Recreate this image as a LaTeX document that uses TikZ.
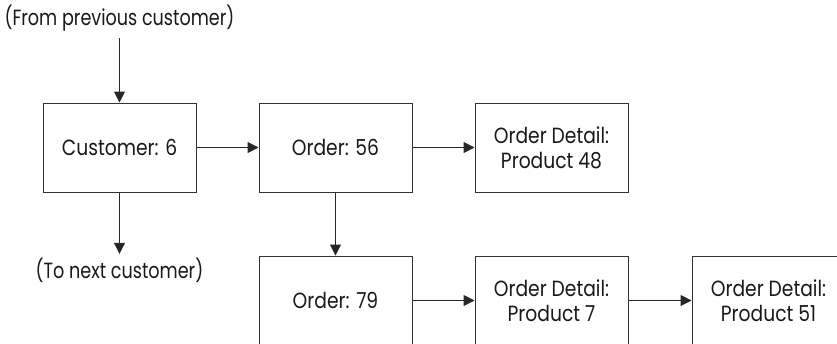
\documentclass[tikz,border=0pt]{standalone}
\usepackage{fontspec}
\setmainfont{Poppins}[FakeStretch=0.85]
\newfontfamily\labfont{Poppins}[FakeStretch=0.80]
\usetikzlibrary{arrows.meta}
\begin{document}
\begin{tikzpicture}[x=1pt,y=-1pt,
  box/.style={draw=black!80, line width=1pt, minimum width=153pt, minimum height=89pt, inner sep=0pt, align=center, font=\fontsize{22}{25}\selectfont, text=black!90},
  lab/.style={inner xsep=0pt, inner ysep=8pt, text height=15pt, text depth=5pt, font=\labfont\fontsize{22}{25}\selectfont, text=black!90},
  arr/.style={draw=black!85, line width=1pt, -{Triangle[length=11pt,width=11pt]}}]
\useasboundingbox (0,0) rectangle (837,343);
\clip (0,0) rectangle (837,343);
\node[box] (cust) at (119.5,147.5) {Customer: 6};
\node[box] (o56) at (335.5,147.5) {Order: 56};
\node[box] (d48) at (551.5,147.5) {Order Detail:\\Product 48};
\node[box] (o79) at (335.5,300.5) {Order: 79};
\node[box] (d7) at (551.5,300.5) {Order Detail:\\Product 7};
\node[box] (d51) at (768.5,300.5) {Order Detail:\\Product 51};
\node[lab] (from) at (119.5,20) {(From previous customer)};
\node[lab, inner ysep=9pt] (next) at (119.5,273) {(To next customer)};
\draw[arr] (from) -- (cust);
\draw[arr] (cust) -- (next);
\draw[arr] (cust) -- (o56);
\draw[arr] (o56) -- (d48);
\draw[arr] (o56) -- (o79);
\draw[arr] (o79) -- (d7);
\draw[arr] (d7) -- (d51);
\end{tikzpicture}
\end{document}
